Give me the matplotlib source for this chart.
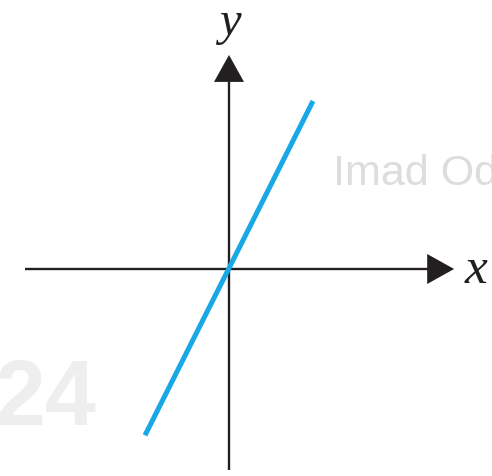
import matplotlib
matplotlib.use("Agg")
import matplotlib.pyplot as plt

# data: line y = 2x
line_x = [-1.0, 1.0]
line_y = [-1.98, 2.0]

axis_color = "#231f20"
line_color = "#19a8e6"

fig = plt.figure(figsize=(4.92, 4.77), dpi=100)
ax = fig.add_axes([0, 0, 1, 1])
U = 84.0
ax.set_xlim(-229 / U, (492 - 229) / U)
ax.set_ylim(-(477 - 270) / U, 270 / U)
ax.set_axis_off()

# watermark text
ax.text(1.238, 1.01, "Imad Odeh", color="#dddddd", fontsize=31,
        family="Liberation Sans", ha="left", va="baseline", zorder=0)
ax.text(-1.571, -1.845, "24", color="#eeeeee", fontsize=66, fontweight="bold",
        family="Liberation Sans", ha="right", va="baseline", zorder=0)

# axes with arrows
ax.plot([-2.43, 2.40], [0, 0], color=axis_color, lw=1.7, solid_capstyle="butt", zorder=2)
ax.plot([0, 0], [-2.393, 2.30], color=axis_color, lw=1.7, solid_capstyle="butt", zorder=2)
style = "-|>,head_length=0.97,head_width=0.54"
ax.annotate("", xy=(2.68, 0), xytext=(2.2, 0),
            arrowprops=dict(arrowstyle=style, mutation_scale=20, lw=0,
                            color=axis_color, shrinkA=0, shrinkB=0))
ax.annotate("", xy=(0, 2.548), xytext=(0, 2.0),
            arrowprops=dict(arrowstyle=style, mutation_scale=20, lw=0,
                            color=axis_color, shrinkA=0, shrinkB=0))

# the line
ax.plot(line_x, line_y, color=line_color, lw=3.6, solid_capstyle="butt", zorder=3)

# labels
ax.text(2.81, -0.155, "x", fontsize=37, style="italic", family="Liberation Serif",
        color=axis_color, ha="left", va="baseline")
ax.text(0.012, 2.80, "y", fontsize=35, style="italic", family="Liberation Serif",
        color=axis_color, ha="center", va="baseline")

fig.savefig("out.png", dpi=100)
